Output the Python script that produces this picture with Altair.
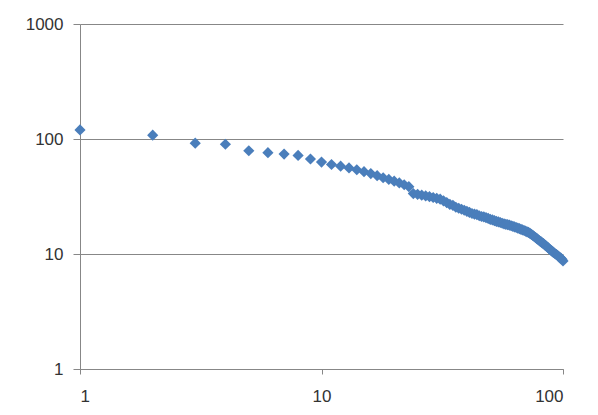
import altair as alt
import pandas as pd

rank = list(range(1, 101))
freq = [
    120, 108, 92, 90, 79, 76, 74, 72, 67, 63,
    60, 58, 56, 54, 52, 50, 48, 46, 44.5, 43,
    41.5, 40, 38.5, 33.5, 33, 32.5, 32, 31.5, 31, 30.5,
    30, 29, 28, 27, 26.5, 25.5, 25, 24.5, 24, 23.5,
    23, 22.5, 22.2, 22, 21.5, 21.2, 21, 20.7, 20.4, 20,
    19.8, 19.5, 19.2, 19, 18.8, 18.5, 18.3, 18.1, 18, 17.8,
    17.6, 17.4, 17.2, 17, 16.8, 16.6, 16.4, 16.2, 16, 15.8,
    15.6, 15.4, 15.1, 14.8, 14.5, 14.2, 13.9, 13.6, 13.3, 13,
    12.8, 12.5, 12.3, 12, 11.8, 11.5, 11.3, 11, 10.8, 10.6,
    10.4, 10.2, 10, 9.9, 9.7, 9.5, 9.3, 9.2, 9, 8.7,
]
x_ticks = [1, 10, 100]
y_ticks = [1, 10, 100, 1000]

df = pd.DataFrame({"rank": rank, "freq": freq})

axis_common = dict(
    labelFont="Liberation Sans",
    labelFontSize=17,
    labelColor="#333333",
    domainColor="#878787",
    tickColor="#878787",
    title=None,
    format="d",
)

chart = (
    alt.Chart(df)
    .mark_point(shape="diamond", filled=True, size=125, color="#4A7EBB", opacity=1, clip=False)
    .encode(
        x=alt.X(
            "rank:Q",
            scale=alt.Scale(type="log", domain=[1, 100], nice=False),
            axis=alt.Axis(values=x_ticks, grid=False, tickSize=5, labelPadding=14, **axis_common),
        ),
        y=alt.Y(
            "freq:Q",
            scale=alt.Scale(type="log", domain=[1, 1000], nice=False),
            axis=alt.Axis(
                values=y_ticks,
                grid=True,
                gridColor="#878787",
                gridWidth=1,
                tickSize=7,
                labelPadding=10,
                **axis_common,
            ),
        ),
    )
    .properties(
        width=483,
        height=345,
        autosize=alt.AutoSizeParams(type="none"),
        padding={"left": 72, "top": 16, "right": 20, "bottom": 36},
    )
    .configure_view(stroke=None)
)

chart.save("out.html", embed_options={"renderer": "svg", "actions": False})
